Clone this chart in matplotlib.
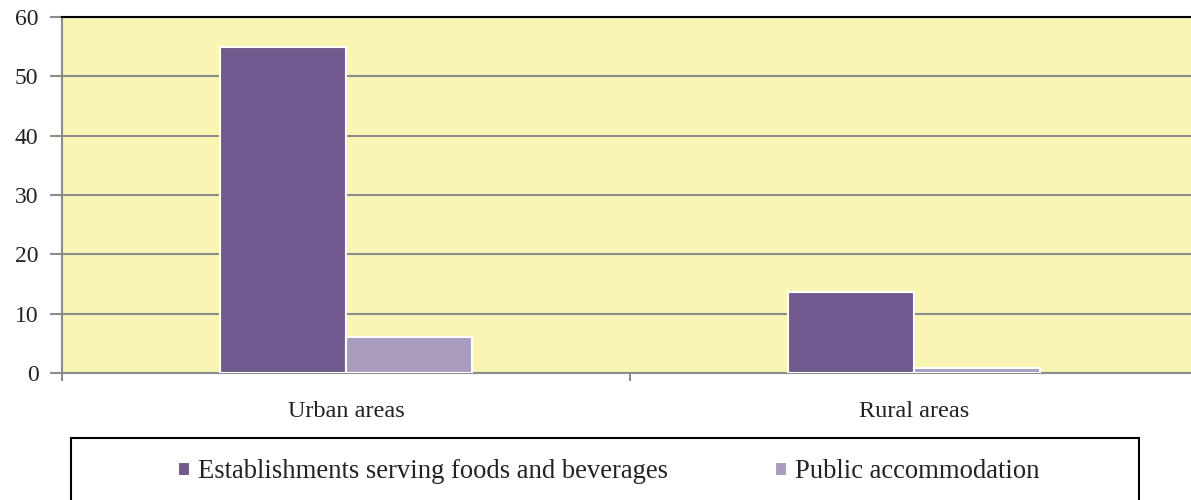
import matplotlib
matplotlib.use("Agg")
import matplotlib.pyplot as plt
from matplotlib.patches import Rectangle

categories = ["Urban areas", "Rural areas"]
series_names = ["Establishments serving foods and beverages", "Public accommodation"]
foods = [55, 13.6]
accommodation = [6, 0.8]
yticks = [0, 10, 20, 30, 40, 50, 60]

plt.rcParams['font.family'] = ['Liberation Serif', 'DejaVu Serif']

fig = plt.figure(figsize=(11.91, 5.0), dpi=100)
# plot area runs a little past the right edge of the picture
ax = fig.add_axes([62 / 1191, 1 - 373 / 500, (1198 - 62) / 1191, (373 - 17) / 500])
ax.set_facecolor('#faf5b4')

x = list(range(len(categories)))
w = 0.222
b1 = ax.bar([i - w / 2 for i in x], foods, width=w, color='#725a8f',
            edgecolor='white', linewidth=1.5, label=series_names[0], zorder=3)
b2 = ax.bar([i + w / 2 for i in x], accommodation, width=w, color='#a99cbe',
            edgecolor='white', linewidth=1.5, label=series_names[1], zorder=3)

ax.set_xlim(-0.5, 1.5)
ax.set_ylim(0, 60)
ax.set_yticks(yticks)
ax.yaxis.grid(True, color='#8c8c8c', linewidth=1.5, zorder=1)
ax.set_axisbelow(True)

ax.set_xticks(x)
ax.set_xticklabels(categories)
ax.set_xticks([-0.5, 0.5, 1.5], minor=True)
ax.tick_params(axis='x', which='major', length=0, pad=20, labelsize=17.5, labelcolor='#222222')
ax.tick_params(axis='x', which='minor', length=6, width=1.5, color='#8c8c8c')
ax.tick_params(axis='y', length=9, width=1.5, color='#8c8c8c', pad=8, labelsize=17,
               labelcolor='#222222')

for s in ['left', 'bottom']:
    ax.spines[s].set_color('#8c8c8c')
    ax.spines[s].set_linewidth(1.5)
ax.spines['top'].set_color('black')
ax.spines['top'].set_linewidth(1.5)
ax.spines['right'].set_visible(False)

# legend box
fig.patches.append(Rectangle((71 / 1191, -0.05), (1139 - 71) / 1191, 0.05 + 1 - 438 / 500,
                             transform=fig.transFigure, facecolor='white',
                             edgecolor='black', linewidth=1.5))
fig.legend(handles=[b1, b2], loc='center left', bbox_to_anchor=(178 / 1191, 1 - 472 / 500),
           ncol=2, frameon=False, fontsize=19.2, handlelength=0.45, handleheight=0.45,
           handletextpad=0.3, columnspacing=4.0, borderpad=0, borderaxespad=0,
           labelcolor='#222222')

fig.savefig('out.png', dpi=100)
